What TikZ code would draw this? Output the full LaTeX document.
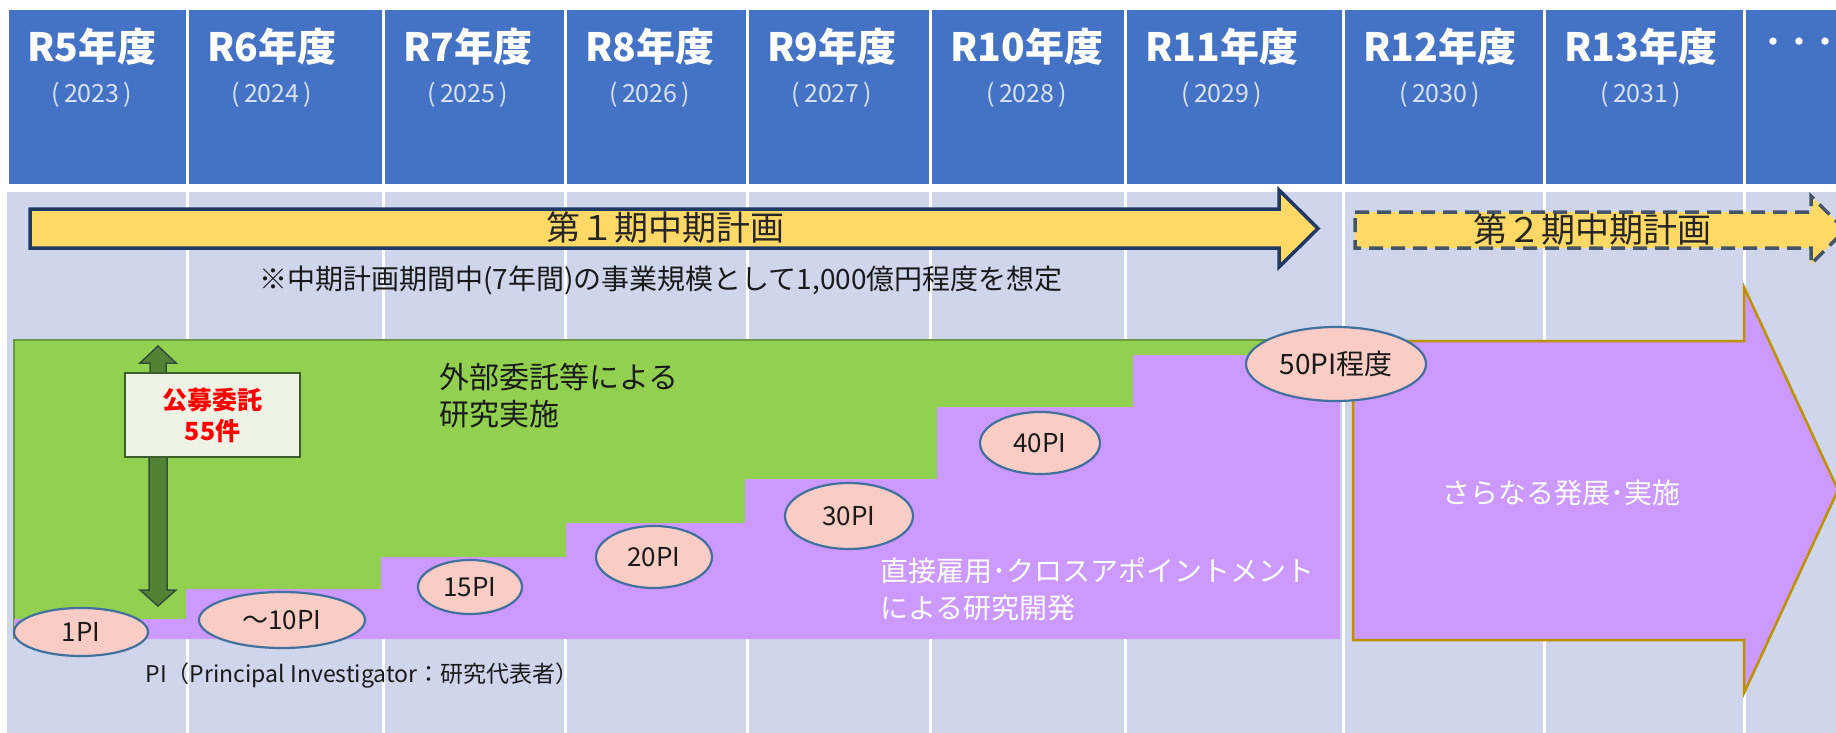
\documentclass[tikz,border=0pt]{standalone}
\usepackage{fontspec}
\setmainfont{Noto Sans CJK JP}
\usetikzlibrary{shapes.geometric}
\definecolor{hdrblue}{HTML}{4472C4}
\definecolor{yrcol}{HTML}{D9E2F3}
\definecolor{bodycol}{HTML}{CFD5EA}
\definecolor{navy}{HTML}{1F3864}
\definecolor{dashgray}{HTML}{44546A}
\definecolor{arrowyellow}{HTML}{FFD966}
\definecolor{grn}{HTML}{92D050}
\definecolor{grnline}{HTML}{6B9A3E}
\definecolor{purp}{HTML}{CC99FF}
\definecolor{gold}{HTML}{BF9000}
\definecolor{boxfill}{HTML}{EDF2E4}
\definecolor{boxline}{HTML}{3B5E2B}
\definecolor{arrgreen}{HTML}{548235}
\definecolor{arrline}{HTML}{2F4F3F}
\definecolor{pifill}{HTML}{F9CDC5}
\definecolor{piline}{HTML}{41719C}
\definecolor{darktext}{HTML}{1A1A1A}
\definecolor{plantext}{HTML}{262626}
\begin{document}
\begin{tikzpicture}[x=1pt,y=-1pt,
  title/.style={anchor=west,text=white,font=\bfseries\fontsize{39}{40}\selectfont,inner sep=0pt},
  yr/.style={text=yrcol,font=\fontsize{25}{28}\selectfont,inner sep=0pt},
  pinode/.style={ellipse,draw=piline,line width=2.2pt,fill=pifill,inner sep=0pt,font=\fontsize{26}{28}\selectfont,text=darktext},
  bigarrow/.style={line join=miter,line width=3.5pt},
  plantxt/.style={text=plantext,font=\fontsize{34}{36}\selectfont,inner sep=0pt},
  vline/.style={fill=white},
  greenarrow/.style={fill=arrgreen,draw=arrline,line width=1.5pt,line join=miter},
  kobobox/.style={draw=boxline,line width=2pt,fill=boxfill,minimum width=175pt,minimum height=84pt,align=center,text=red,font=\bfseries\fontsize{25}{31}\selectfont,inner sep=0pt}
]
\useasboundingbox (0,0) rectangle (1836,733);
\fill[white] (0,0) rectangle (1836,733);
\coordinate (yl) at (0,95);
% header
\foreach \l/\r/\t/\yy/\n in {7/187/R5年度/2023/a,187/383/R6年度/2024/b,383/565/R7年度/2025/c,565/747/R8年度/2026/d,747/930/R9年度/2027/e,930/1125/R10年度/2028/f,1125/1343/R11年度/2029/g,1343/1544/R12年度/2030/h,1544/1744/R13年度/2031/i}{
  \fill[hdrblue] (\l+1.5,10) rectangle (\r-1.5,184);
  \node[title] (t\n) at (\l+20,47) {\t};
  \node[yr] (y\n) at (t\n.center |- yl) {(\,\yy\,)};
}
\fill[hdrblue] (1745.5,10) rectangle (1836,184);
\node[title,font=\bfseries\fontsize{26}{28}\selectfont] (tdots) at (1760,45) {・・・};
% body
\fill[bodycol] (7,192) rectangle (1836,733);
\foreach \x in {187,383,565,747,930,1125,1343,1544,1744}
  \fill[vline] (\x-1.5,192) rectangle (\x+1.5,733);
% plan arrows
\filldraw[bigarrow,fill=arrowyellow,draw=navy] (30,209) -- (1279,209) -- (1279,190) -- (1318,228.5) -- (1279,267) -- (1279,248) -- (30,248) -- cycle;
\filldraw[bigarrow,fill=arrowyellow,draw=dashgray,dash pattern=on 14pt off 8pt] (1355,212) -- (1811,212) -- (1811,196) -- (1845,230) -- (1811,264) -- (1811,248) -- (1355,248) -- cycle;
\node[plantxt] (plan1) at (665,228) {第１期中期計画};
\node[plantxt] (plan2) at (1592,230) {第２期中期計画};
\node[text=darktext,font=\fontsize{28}{30}\selectfont,inner sep=0pt] (note) at (661,280) {※中期計画期間中(7年間)の事業規模として1,000億円程度を想定};
% green and purple
\fill[grn] (14,340) rectangle (1340,639);
\draw[grnline,line width=1.5pt] (14,639) -- (14,340) -- (1340,340);
\fill[purp] (14,619) -- (186,619) -- (186,589) -- (381,589) -- (381,557) -- (566,557) -- (566,523) -- (745,523) -- (745,479) -- (937,479) -- (937,407) -- (1133,407) -- (1133,355) -- (1340,355) -- (1340,639) -- (14,639) -- cycle;
% right arrow
\filldraw[fill=purp,draw=gold,line width=2.5pt,line join=miter] (1353,341) -- (1744,341) -- (1744,287) -- (1838,490) -- (1744,693) -- (1744,640) -- (1353,640) -- cycle;
\node[text=white,font=\fontsize{28}{30}\selectfont,inner sep=0pt] (sara) at (1561,493) {さらなる発展･実施};
% kobo arrows and box
\filldraw[greenarrow] (150,373) -- (150,363) -- (140,363) -- (158,346) -- (176,363) -- (166,363) -- (166,373) -- cycle;
\filldraw[greenarrow] (149,457) -- (149,590) -- (140,590) -- (158,606) -- (176,590) -- (167,590) -- (167,457) -- cycle;
\node[kobobox] (kobo) at (212.5,415) {公募委託\\55件};
% texts
\node[anchor=west,align=left,text=darktext,font=\fontsize{30}{37}\selectfont,inner sep=0pt] (gaibu) at (439,396) {外部委託等による\\研究実施};
\node[anchor=west,align=left,text=white,font=\fontsize{28}{37}\selectfont,inner sep=0pt] (choku) at (880,589) {直接雇用･クロスアポイントメント\\による研究開発};
% PI ellipses
\node[pinode,minimum width=134pt,minimum height=48pt] (p1) at (81,632) {1PI};
\node[pinode,minimum width=166pt,minimum height=56pt] (p10) at (282,620) {～10PI};
\node[pinode,minimum width=104pt,minimum height=54pt] (p15) at (470,587) {15PI};
\node[pinode,minimum width=116pt,minimum height=62pt] (p20) at (654,557) {20PI};
\node[pinode,minimum width=128pt,minimum height=66pt] (p30) at (849,516) {30PI};
\node[pinode,minimum width=120pt,minimum height=62pt] (p40) at (1040,443) {40PI};
\node[pinode,minimum width=180pt,minimum height=74pt,font=\fontsize{28}{30}\selectfont] (p50) at (1336,364) {50PI程度};
\node[text=darktext,font=\fontsize{23}{26}\selectfont,inner sep=0pt] (pinote) at (362,676) {PI（Principal Investigator：研究代表者）};
\end{tikzpicture}
\end{document}
